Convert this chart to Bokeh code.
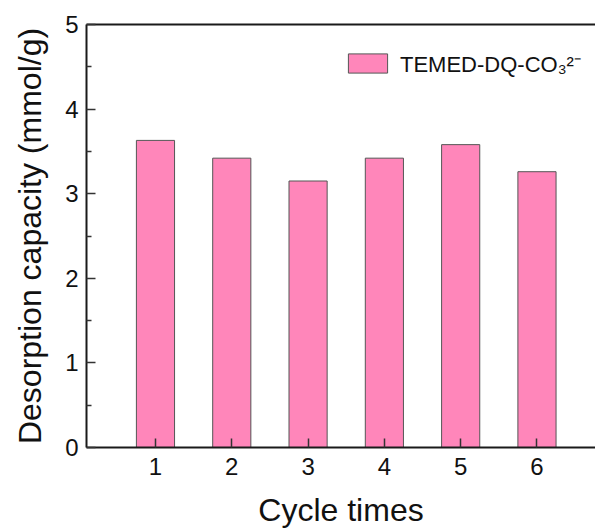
from bokeh.plotting import figure
from bokeh.models import ColumnDataSource, LinearAxis, Legend, LegendItem, Range1d, FixedTicker
from bokeh.embed import file_html
from bokeh.resources import INLINE

cycles = [1, 2, 3, 4, 5, 6]
capacity = [3.63, 3.42, 3.15, 3.42, 3.58, 3.26]
series_name = "TEMED-DQ-CO\u2083\u00b2\u207b"
x_label = "Cycle times"
y_label = "Desorption capacity (mmol/g)"

src = ColumnDataSource(dict(x=cycles, top=capacity))

FONT = "Liberation Sans"

p = figure(width=595, height=530, output_backend="svg", toolbar_location=None,
           x_range=Range1d(0.096, 6.767), y_range=Range1d(0, 5),
           min_border_left=86, min_border_right=0, min_border_top=24, min_border_bottom=82)
p.outline_line_color = None
p.grid.visible = False
p.background_fill_color = "white"

r = p.vbar(x="x", top="top", width=0.5, source=src, fill_color="#FF86BA",
           line_color="#555555", line_width=1)

for ax in (p.xaxis[0], p.yaxis[0]):
    ax.axis_line_width = 2
    ax.axis_line_color = "#1a1a1a"
    ax.major_tick_in = 9
    ax.major_tick_out = 0
    ax.major_tick_line_width = 1.5
    ax.major_tick_line_color = "#333333"
    ax.minor_tick_in = 5
    ax.minor_tick_out = 0
    ax.minor_tick_line_width = 1.5
    ax.minor_tick_line_color = "#333333"
    ax.major_label_text_font = FONT
    ax.major_label_text_font_size = "24px"
    ax.major_label_text_color = "#111111"
    ax.axis_label_text_font = FONT
    ax.axis_label_text_font_size = "32px"
    ax.axis_label_text_font_style = "normal"
    ax.axis_label_text_color = "#111111"

p.xaxis.ticker = FixedTicker(ticks=cycles)
p.xaxis.minor_tick_line_color = None
p.xaxis.major_label_standoff = 10
p.xaxis.axis_label = x_label
p.xaxis.axis_label_standoff = 14

p.yaxis.ticker = FixedTicker(ticks=[0, 1, 2, 3, 4, 5], minor_ticks=[0.5, 1.5, 2.5, 3.5, 4.5])
p.yaxis.major_label_standoff = 8
p.yaxis.axis_label = y_label
p.yaxis.axis_label_standoff = 14

top_ax = LinearAxis(axis_line_width=2, axis_line_color="#1a1a1a",
                    major_tick_line_color=None, minor_tick_line_color=None,
                    major_label_text_font_size="0px", major_label_text_color=None)
p.add_layout(top_ax, "above")

legend = Legend(items=[LegendItem(label=series_name, renderers=[r])],
                location=(257, 369), glyph_width=49, glyph_height=24,
                label_text_font=FONT, label_text_font_size="22px", label_text_color="#111111",
                padding=0, margin=0, border_line_color=None, background_fill_alpha=0,
                label_standoff=8)
p.add_layout(legend)

open("out.html", "w").write(file_html(p, INLINE))
